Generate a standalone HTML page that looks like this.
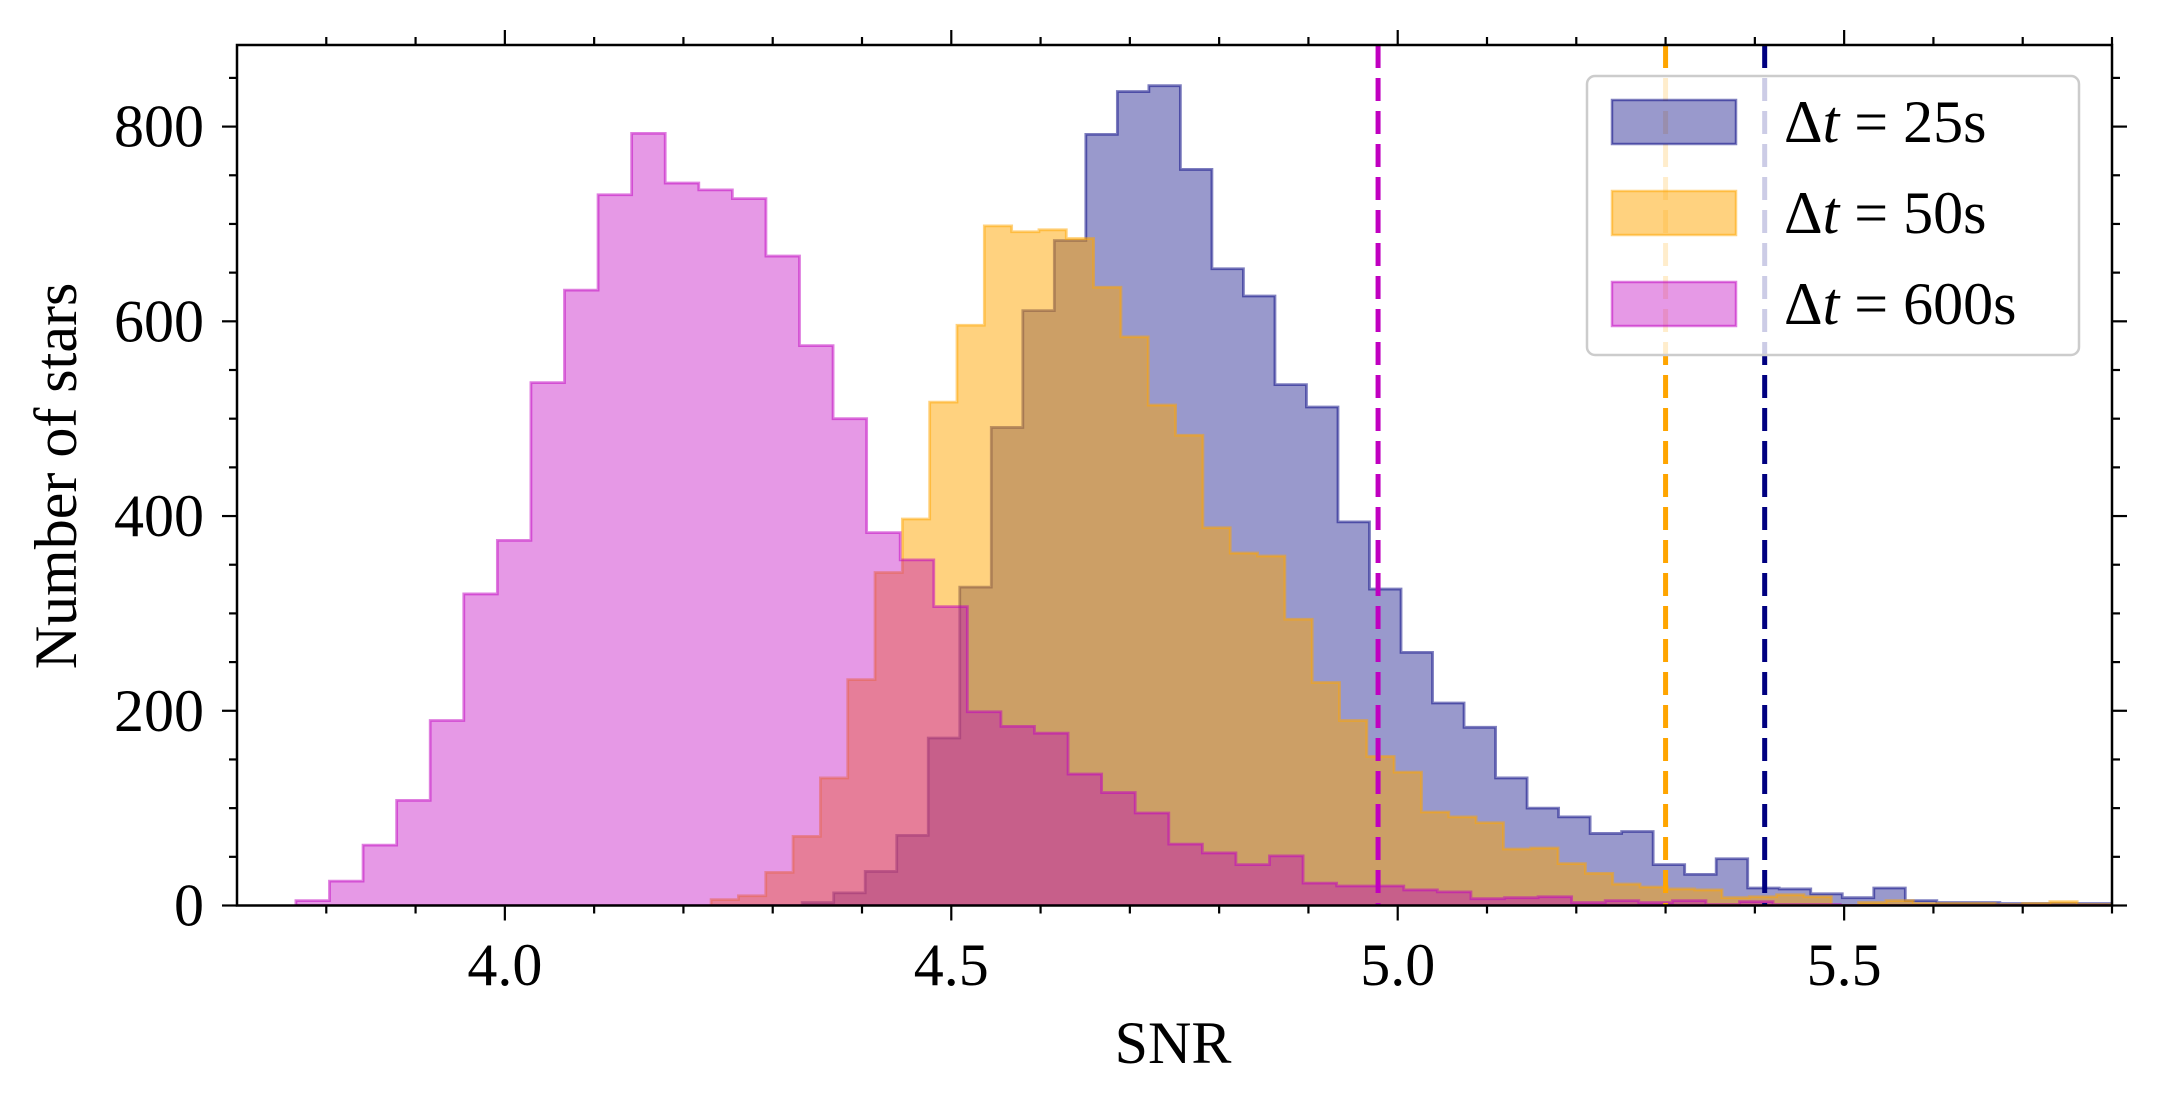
<!DOCTYPE html>
<html><head><meta charset="utf-8"><style>
body{margin:0;background:#fff;}
svg text{font-family:"Liberation Serif","DejaVu Serif",serif;fill:#000;}
</style></head><body>
<svg id="chart" width="2157" height="1107" viewBox="0 0 2157 1107" xmlns="http://www.w3.org/2000/svg">
<rect width="2157" height="1107" fill="#fff"/>
<defs><clipPath id="clip"><rect x="237" y="45" width="1875" height="860.5"/></clipPath></defs>
<g id="plot"></g>
<g id="axes"></g>
<g id="legend"></g>
</svg>
<script>
const seriesLabels = ["25s", "50s", "600s"];
const start25 = 4.333, width25 = 0.0353;
const counts25 = [3,13,35,72,172,327,491,611,683,792,836,842,756,654,626,535,512,394,325,260,208,183,131,100,91,74,76,42,32,48,18,17,12,8,18,5,3,3,2,2,2,2];
const start50 = 4.231, width50 = 0.0306;
const counts50 = [6,10,34,71,131,232,342,397,517,596,698,692,694,685,635,584,514,483,388,362,359,294,229,190,153,137,96,91,85,58,59,43,33,22,19,17,16,8,9,11,9,0,3,5,2,2,2,1,2,4,1,1];
const start600 = 3.766, width600 = 0.0376;
const counts600 = [5,25,62,108,190,320,375,537,632,730,793,742,735,726,667,575,500,383,355,307,199,184,177,135,116,95,63,54,42,51,23,20,20,16,14,7,8,9,3,5,3,5,1,4,1,1,0,0,0,0,0,0,0,0];
const thresholds = [4.978, 5.300, 5.411];
const xTicks = [4.0, 4.5, 5.0, 5.5];
const xTickLabels = ["4.0","4.5","5.0","5.5"];
const yTicks = [0,200,400,600,800];
const yTickLabels = ["0","200","400","600","800"];

const L=237,R=2112,T=45,B=905.5, XMIN=3.7, XMAX=5.8, YMAX=883.8;
const sx = v => L + (v-XMIN)/(XMAX-XMIN)*(R-L);
const sy = v => B - v/YMAX*(B-T);
const NS="http://www.w3.org/2000/svg";
function mk(tag, attrs, parent){const e=document.createElementNS(NS,tag);for(const k in attrs)e.setAttribute(k,attrs[k]);parent.appendChild(e);return e;}
const plot=document.getElementById('plot'), axes=document.getElementById('axes'), legend=document.getElementById('legend');

const hists=[
 {start:start25,w:width25,c:counts25,fill:'#000080',fo:0.4,edge:'#000080',name:'histogram-25s'},
 {start:start50,w:width50,c:counts50,fill:'#ffa500',fo:0.5,edge:'#ffa500',name:'histogram-50s'},
 {start:start600,w:width600,c:counts600,fill:'#c000c0',fo:0.4,edge:'#c000c0',name:'histogram-600s'}
];
hists.forEach(h=>{
  let d=`M${sx(h.start)},${sy(0)}`;
  h.c.forEach((v,i)=>{const x0=sx(h.start+i*h.w), x1=sx(h.start+(i+1)*h.w); d+=` L${x0},${sy(v)} L${x1},${sy(v)}`;});
  d+=` L${sx(h.start+h.c.length*h.w)},${sy(0)} Z`;
  const p=mk('path',{d:d,fill:h.fill,'fill-opacity':h.fo,stroke:h.edge,'stroke-opacity':0.5,'stroke-width':2.8,'clip-path':'url(#clip)'},plot);
  
  
});
const thrColors=['#c000c0','#ffa500','#000080'];
const thrNames=['threshold-600s','threshold-50s','threshold-25s'];
thresholds.forEach((t,i)=>{
  const l=mk('line',{x1:sx(t),x2:sx(t),y1:T,y2:B,stroke:thrColors[i],'stroke-width':5,'stroke-dasharray':'23,10'},plot);
  
  
});

const fr=mk('rect',{x:L,y:T,width:R-L,height:B-T,fill:'none',stroke:'#000','stroke-width':2.5},axes);


for(let v=3.8; v<=5.8+1e-9; v+=0.1){
  const x=sx(v); const major=xTicks.some(m=>Math.abs(m-v)<1e-6); const len=major?15:8;
  mk('line',{x1:x,x2:x,y1:B,y2:B+len,stroke:'#000','stroke-width':2.2},axes);
  mk('line',{x1:x,x2:x,y1:T,y2:T-len,stroke:'#000','stroke-width':2.2},axes);
}
xTicks.forEach((v,i)=>{
  const t=mk('text',{x:sx(v),y:985,'font-size':60,'text-anchor':'middle'},axes);
  t.textContent=xTickLabels[i];
  
  
});
for(let v=0; v<=850; v+=50){
  const y=sy(v); const major=v%200===0; const len=major?15:8;
  mk('line',{x1:L,x2:L-len,y1:y,y2:y,stroke:'#000','stroke-width':2.2},axes);
  mk('line',{x1:R,x2:R+len,y1:y,y2:y,stroke:'#000','stroke-width':2.2},axes);
}
yTicks.forEach((v,i)=>{
  const t=mk('text',{x:204,y:sy(v)+20,'font-size':60,'text-anchor':'end'},axes);
  t.textContent=yTickLabels[i];
  
  
});
const xt=mk('text',{x:1173,y:1063,'font-size':60,'text-anchor':'middle'},axes);
xt.textContent='SNR';


const yt=mk('text',{x:0,y:0,'font-size':60,'text-anchor':'middle',transform:'translate(76,476) rotate(-90)'},axes);
yt.textContent='Number of stars';



const lb=mk('rect',{x:1587,y:76,width:492,height:279,rx:8,fill:'#fff','fill-opacity':0.8,stroke:'#ccc','stroke-width':2.5},legend);


const ly=[122,213,304];
hists.forEach((h,i)=>{
  const r=mk('rect',{x:1612,y:ly[i]-22,width:124,height:44,fill:h.fill,'fill-opacity':h.fo,stroke:h.edge,'stroke-opacity':0.5,'stroke-width':2.5},legend);
  
  
  const t=mk('text',{x:1784,y:ly[i]+20,'font-size':60},legend);
  
  
  const a=mk('tspan',{},t); a.textContent='Δ';
  const b=mk('tspan',{'font-style':'italic'},t); b.textContent='t';
  const c=mk('tspan',{},t); c.textContent=' = '+seriesLabels[i];
});
</script>
</body></html>
